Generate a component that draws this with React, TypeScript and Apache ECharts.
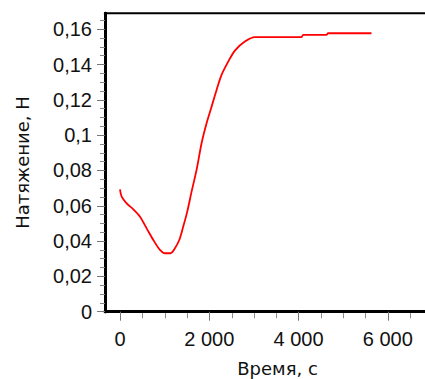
import React, { useEffect, useRef } from "react";
import * as echarts from "echarts";

// Measured tension over time
const timeSec = [
  0, 37, 149, 298, 448, 597, 746, 895, 1007, 1134, 1231, 1328, 1417, 1507, 1604,
  1716, 1828, 1940, 2052, 2164, 2276, 2425, 2574, 2798, 3022, 4067, 4104, 4627,
  4664, 5635,
];
const tensionN = [
  0.0693, 0.0652, 0.0614, 0.058, 0.0538, 0.0472, 0.0406, 0.035, 0.0331, 0.0331,
  0.0359, 0.0406, 0.0482, 0.0567, 0.068, 0.0803, 0.0954, 0.1067, 0.1161, 0.1256,
  0.1341, 0.1416, 0.1479, 0.153, 0.1555, 0.1555, 0.1568, 0.1568, 0.1577, 0.1577,
];

// Axis ticks and labels
const xMajorTicks = [0, 2000, 4000, 6000];
const xMinorTicks = [500, 1000, 1500, 2500, 3000, 3500, 4500, 5000, 5500, 6500, 7000];
const yMajorTicks = [0, 0.02, 0.04, 0.06, 0.08, 0.1, 0.12, 0.14, 0.16];
const yMinorTicks = [
  0.005, 0.01, 0.015, 0.025, 0.03, 0.035, 0.045, 0.05, 0.055, 0.065, 0.07, 0.075,
  0.085, 0.09, 0.095, 0.105, 0.11, 0.115, 0.125, 0.13, 0.135, 0.145, 0.15, 0.155,
  0.165,
];

const X_MIN = 0;
const X_MAX = 8000;
const X_STEP = 2000;
const Y_MIN = 0;
const Y_MAX = 0.169;

const fmtX = (v: number) =>
  String(Math.round(v)).replace(/\B(?=(\d{3})+(?!\d))/g, " ");
const fmtY = (v: number) => String(v).replace(".", ",");

const tickFont = { fontFamily: "Liberation Sans", fontSize: 20, color: "#111" };
const titleFont = { fontFamily: "DejaVu Sans", fontSize: 18, color: "#111" };

const TOP = 13.3;
const BOTTOM = 67.3;

export default function App() {
  const ref = useRef<HTMLDivElement>(null);

  useEffect(() => {
    document.body.style.margin = "0";
    if (!ref.current) return;
    const chart = echarts.init(ref.current, null, { renderer: "svg" });
    const data = timeSec.map((t, i) => [t, tensionN[i]]);

    chart.setOption({
      animation: false,
      backgroundColor: "#fff",
      grid: [
        // outer frame with the tension axis
        {
          left: 105,
          top: TOP,
          bottom: BOTTOM,
          right: -25,
          outerBoundsMode: "none",
          show: true,
          borderColor: "#000",
          borderWidth: 2,
          backgroundColor: "transparent",
        },
        // plotting area, starting at t = 0
        {
          left: 120,
          top: TOP,
          bottom: BOTTOM,
          right: -52,
          outerBoundsMode: "none",
          show: false,
        },
      ],
      xAxis: [
        {
          gridIndex: 0,
          type: "value",
          position: "bottom",
          min: 0,
          max: 1,
          name: "Время, с",
          nameLocation: "middle",
          nameGap: 48,
          nameTextStyle: titleFont,
          splitLine: { show: false },
          axisLine: { show: true, onZero: false, lineStyle: { color: "#000", width: 3 } },
          axisTick: { show: false },
          axisLabel: { show: false },
        },
        {
          gridIndex: 1,
          type: "value",
          position: "bottom",
          min: X_MIN,
          max: X_MAX,
          interval: X_STEP,
          splitLine: { show: false },
          axisLine: { show: true, onZero: false, lineStyle: { color: "#000", width: 3 } },
          axisTick: { show: true, length: 9, lineStyle: { color: "#777", width: 1 } },
          axisLabel: {
            show: true,
            customValues: xMajorTicks,
            margin: 17,
            formatter: fmtX,
            ...tickFont,
          },
        },
      ],
      yAxis: [
        {
          gridIndex: 0,
          type: "value",
          position: "left",
          min: Y_MIN,
          max: Y_MAX,
          name: "Натяжение, Н",
          nameLocation: "middle",
          nameGap: 74,
          nameRotate: 90,
          nameTextStyle: titleFont,
          splitLine: { show: false },
          axisLine: { show: true, onZero: false, lineStyle: { color: "#000", width: 3 } },
          axisTick: {
            show: true,
            customValues: yMajorTicks,
            length: 8,
            lineStyle: { color: "#777", width: 1 },
          },
          axisLabel: {
            show: true,
            customValues: yMajorTicks,
            margin: 13,
            formatter: fmtY,
            ...tickFont,
          },
        },
        {
          gridIndex: 0,
          type: "value",
          position: "left",
          min: Y_MIN,
          max: Y_MAX,
          splitLine: { show: false },
          axisLine: { show: true, onZero: false, lineStyle: { color: "#000", width: 3 } },
          axisLabel: { show: false },
          axisTick: {
            show: true,
            length: 5,
            customValues: yMinorTicks,
            lineStyle: { color: "#888", width: 1 },
          },
        },
        {
          gridIndex: 1,
          type: "value",
          min: Y_MIN,
          max: Y_MAX,
          show: false,
        },
      ],
      series: [
        {
          type: "line",
          xAxisIndex: 1,
          yAxisIndex: 2,
          data,
          clip: false,
          showSymbol: false,
          symbol: "none",
          smooth: 0.3,
          lineStyle: { color: "#ff0000", width: 1.8 },
        },
      ],
    });

    // short time ticks every 500 s, placed through the time axis scale
    try {
      const yBase = chart.convertToPixel({ yAxisIndex: 2 }, Y_MIN) as number;
      const minorLines = xMinorTicks.map((v) => {
        const px = Math.round(chart.convertToPixel({ xAxisIndex: 1 }, v) as number) + 0.5;
        return {
          type: "line",
          silent: true,
          z: 1,
          shape: { x1: px, y1: yBase + 1.5, x2: px, y2: yBase + 6.5 },
          style: { stroke: "#888", lineWidth: 1 },
        };
      });
      chart.setOption({ graphic: minorLines });
    } catch (e) {
      // leave the chart without the short ticks
    }

    return () => chart.dispose();
  }, []);

  return <div ref={ref} style={{ width: 425, height: 379 }} />;
}
